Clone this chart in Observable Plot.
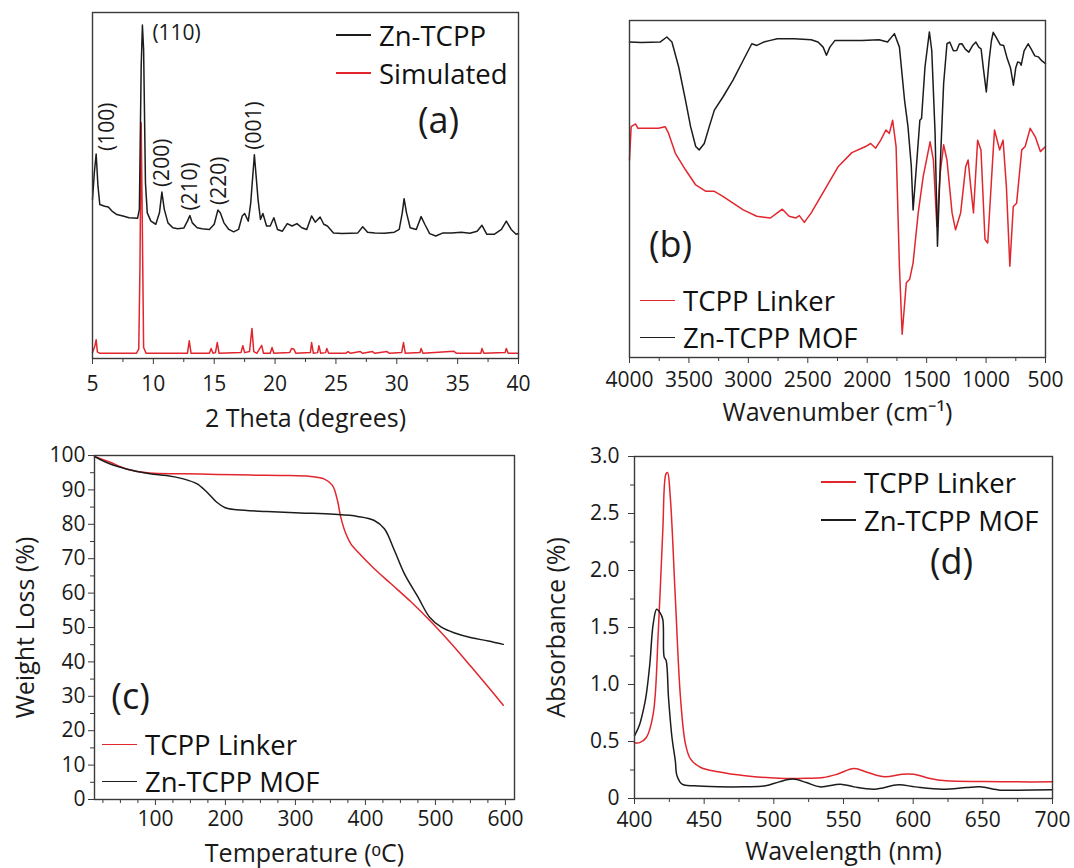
<!DOCTYPE html>
<html><head><meta charset="utf-8">
<script src="https://cdn.jsdelivr.net/npm/d3@7"></script>
<script src="https://cdn.jsdelivr.net/npm/@observablehq/plot@0.6"></script>
<style>
body{margin:0;background:#fff;}
#fig{position:relative;width:1074px;height:868px;overflow:hidden;font-family:'Open Sans',sans-serif;background:#fff;}
.panel{position:absolute;}
.leg{position:absolute;font-size:27.5px;color:#111;white-space:nowrap;z-index:2;}
.leg .item{display:flex;align-items:center;}
.leg .sw{display:inline-block;width:35px;height:1.6px;margin-right:8px;}
</style></head><body><div id="fig"></div>
<script>
// ---------- (a) XRD ----------
const xrdTheta = [5.0,5.15,5.3,5.45,5.6,6.0,6.3,6.6,7.0,7.5,8.0,8.7,8.85,9.0,9.1,9.2,9.35,9.5,9.8,10.2,10.5,10.7,10.9,11.2,11.6,12.0,12.5,12.8,13.0,13.2,13.6,14.0,14.6,15.0,15.3,15.5,15.8,16.2,16.6,17.0,17.3,17.5,17.8,18.0,18.3,18.6,18.8,19.0,19.3,19.6,19.9,20.2,20.6,21.0,21.4,21.8,22.2,22.6,23.0,23.3,23.7,24.0,24.3,24.8,25.5,26.2,26.8,27.2,27.6,28.2,29.0,29.8,30.2,30.45,30.6,30.8,31.1,31.6,32.0,32.3,32.7,33.2,33.8,34.5,35.3,36.0,36.6,37.0,37.4,38.0,38.6,39.0,39.4,39.8,40.0];
const xrdZnTcpp = [46,53.7,59.1,49.8,44.5,44,43.8,42.6,41.6,41.2,40.7,40.5,43.1,84.4,96.4,89.2,50.8,42.1,39.7,38.8,42.1,48.1,43.1,39.2,37.8,37.5,37.7,39.7,41.3,39.2,37.8,37.5,37.3,38.8,42.9,42.1,39.2,37.3,36.6,37.3,41.2,41.9,39.7,45,58.9,46,40.2,41.9,38.3,38.3,40.7,37.3,36.8,39,38.3,39,37.8,37.3,41.2,39.4,40.9,38.8,38.3,36.3,36.1,36.2,36.3,38.1,36.5,36.3,36.2,36.5,37.3,42.1,46.2,42.1,37.8,37.3,41,38.8,36.1,35.4,36.3,36.3,36.5,36.2,36.8,38.5,35.9,35.9,37.3,39.7,37.3,35.9,36.1];
const xrdSimTheta = [5.0,5.2,5.3,5.4,5.6,8.6,8.8,8.9,9.0,9.1,9.2,9.4,12.8,12.95,13.1,14.6,14.75,14.9,15.1,15.25,15.4,17.2,17.35,17.5,17.9,18.1,18.25,18.5,18.9,19.05,19.6,19.75,19.9,21.2,21.35,21.55,21.7,22.9,23.0,23.15,23.5,23.6,23.75,24.15,24.25,24.4,25.8,26.0,26.2,27.0,27.2,28.0,28.2,29.2,29.4,30.4,30.55,30.7,31.9,32.0,32.15,34.7,34.9,36.9,37.0,37.15,38.9,39.0,39.15,40.0];
const xrdSimulated = [1.7,3.7,5.4,1.9,1.5,1.5,2.7,26.7,68.1,36.3,3.2,1.5,1.5,5.1,1.5,1.5,2.9,1.5,1.7,4.6,1.5,1.7,3.7,1.7,2.0,8.7,2.0,1.5,3.8,1.5,1.5,3.2,1.5,1.7,2.9,2.7,1.5,1.7,4.6,1.5,1.7,3.7,1.5,1.7,2.9,1.5,1.5,2.0,1.5,2.0,1.5,2.0,1.5,2.0,1.5,1.7,4.6,1.5,1.7,2.9,1.5,2.1,1.5,1.5,2.9,1.5,1.7,2.9,1.5,1.5];
const xrdPeakHkl = ["(100)","(110)","(200)","(210)","(220)","(001)"];
const xrdPeakTheta = [5.3,9.1,10.7,13.0,15.4,18.3];
const xrdTicks = [5,10,15,20,25,30,35,40];
const xrdSeries = ["Zn-TCPP","Simulated"];

// ---------- (b) FTIR ----------
const ftirWnMof = [4000,3900,3743,3686,3643,3586,3529,3486,3443,3414,3371,3329,3286,3214,3129,3043,2971,2929,2871,2814,2757,2614,2471,2414,2371,2343,2314,2271,2186,2043,1900,1829,1771,1729,1686,1657,1629,1614,1586,1557,1543,1514,1477,1457,1429,1409,1386,1357,1329,1306,1275,1247,1225,1203,1175,1145,1115,1086,1060,1042,1020,998,975,955,940,915,880,852,822,795,770,750,734,715,705,680,646,620,590,559,530,500];
const ftirMof = [93.6,93.5,93.6,95.1,93.6,86.2,76.4,68.5,62.6,61.6,63.5,68.5,73.4,77.3,82.3,88.2,93.1,92.6,93.6,94.1,94.6,94.6,94.3,93.6,92.1,89.7,92.1,94.1,94.1,94.1,94.3,93.6,96.1,92.1,76.4,68.5,56.7,43.8,56.7,70.4,70.9,86.2,96.6,91.1,66.5,33.0,56.7,81.3,93.1,93.6,91.0,91.1,93.0,93.1,91.5,90.6,92.5,93.6,92.0,91.6,85,78.8,88,94,96.5,95.0,92.8,92.6,88.7,86,80.8,86,87.7,87.5,86.7,91,93.1,91.5,89.5,89.2,88,87.2];
const ftirWnLinker = [4000,3986,3949,3929,3900,3757,3700,3671,3614,3529,3443,3357,3286,3214,3129,3043,2929,2814,2757,2714,2657,2600,2571,2529,2471,2357,2243,2129,2014,1971,1929,1886,1843,1814,1786,1757,1729,1706,1671,1643,1614,1571,1529,1471,1443,1414,1386,1357,1329,1286,1257,1214,1171,1151,1129,1106,1071,1043,1009,986,943,929,886,857,829,800,771,743,700,671,629,586,543,500];
const ftirLinker = [58.6,68.5,69.3,68.0,68.0,68.0,68.5,66.5,60.6,55.7,51.2,49.3,49.3,47.8,45.8,43.8,41.9,41.4,42.9,44.0,41.9,41.4,42.1,40.1,42.9,49.8,56.7,60.8,62.6,63.5,62.1,64.5,67.5,66.5,70.4,62.6,27.1,6.9,22.2,23.2,28.1,42.9,53.7,64.0,58.6,38.9,54.7,63.1,58.6,42.9,37.9,42.9,56.7,58.6,50.7,42.9,64.5,61.6,35.0,34.0,59.6,67.5,61.6,64.5,50.7,27.1,44.8,45.8,61.6,62.6,68.0,65.5,61.1,62.6];
const ftirTicks = [4000,3500,3000,2500,2000,1500,1000,500];
const ftirSeries = ["TCPP Linker","Zn-TCPP MOF"];

// ---------- (c) TGA ----------
const tgaTempLinker = [13,34.5,58.5,92,139.9,187.7,235.6,283.5,321.8,340.9,352.9,360.1,364.8,372,379.2,393.6,412.7,436.6,465.4,494.1,522.8,551.5,575.5,597];
const tgaLinker = [99.7,98.1,96.1,94.9,94.7,94.5,94.3,94.2,93.9,93.2,91.3,86.9,82.1,77.3,74.3,71.0,67.1,62.7,57.4,51.6,45.3,38.5,32.7,27.4];
const tgaTempMof = [13,34.5,58.5,92,115.9,139.9,159,173.4,187.7,199.7,216.4,259.5,307.4,355.3,388.8,412.7,427.1,441.5,455.8,475,491.7,508.5,527.6,551.5,575.5,597];
const tgaMof = [99.7,97.6,96.1,94.7,94.2,93.2,91.8,89.4,86.4,84.8,84.2,83.7,83.3,82.9,82.3,81.1,78.7,72.4,65.6,58.9,53.0,50.1,48.4,47.0,46.1,45.1];
const tgaXTicks = [100,200,300,400,500,600];
const tgaYTicks = [0,10,20,30,40,50,60,70,80,90,100];
const tgaSeries = ["TCPP Linker","Zn-TCPP MOF"];

// ---------- (d) UV-Vis ----------
const uvWlLinker = [400,403.7,408.5,413.4,417.1,420.3,422.5,423.7,425.7,429.3,433,436.6,440.3,447.6,459.9,479.4,503.8,523.4,535.6,545.4,557.6,567.4,579.6,591.8,600.3,611.3,623.5,650.4,674.8,700];
const uvLinker = [0.49,0.49,0.535,0.74,1.47,2.35,2.845,2.86,2.64,1.76,0.886,0.477,0.345,0.272,0.234,0.199,0.178,0.178,0.184,0.213,0.263,0.228,0.19,0.213,0.213,0.178,0.155,0.149,0.146,0.146];
const uvWlMof = [400,403.7,407.3,408.5,411,413.4,415.9,418.3,420.3,421.3,422.7,424.4,426.9,429.3,430.5,434.2,442.8,459.9,479.4,494.1,503.8,513.6,523.4,533.1,547.8,557.6,572.3,589.4,601.5,621,638.2,648,662.6,674.8,700];
const uvMof = [0.55,0.65,0.83,0.915,1.18,1.53,1.66,1.63,1.57,1.24,1.21,0.886,0.535,0.33,0.2,0.126,0.111,0.102,0.102,0.111,0.146,0.17,0.14,0.102,0.126,0.102,0.082,0.12,0.102,0.082,0.096,0.102,0.073,0.073,0.076];
const uvXTicks = [400,450,500,550,600,650,700];
const uvYTicks = [0,0.5,1.0,1.5,2.0,2.5,3.0];
const uvSeries = ["TCPP Linker","Zn-TCPP MOF"];

// ---------- styling ----------
const RED = "#e2262d", BLACK = "#1c1c1c", AXIS = "#3a3a3a";
const FONT = "'Open Sans', sans-serif";
const zip = (xs, ys) => xs.map((x, i) => ({x, y: ys[i]}));
const baseStyle = {fontFamily: FONT, fontSize: "21px", color: "#1a1a1a", background: "transparent", overflow: "visible"};
const fig = document.getElementById("fig");

function place(svg, left, top) {
  svg.classList.add("panel");
  svg.style.position = "absolute";
  svg.style.left = left + "px";
  svg.style.top = top + "px";
  fig.appendChild(svg);
}
function legend(names, colors, left, top, rowH) {
  const d = document.createElement("div");
  d.className = "leg";
  d.style.left = left + "px";
  d.style.top = top + "px";
  names.forEach((n, i) => {
    const it = document.createElement("div");
    it.className = "item";
    it.style.height = rowH + "px";
    const sw = document.createElement("span");
    sw.className = "sw";
    sw.style.background = colors[i];
    it.appendChild(sw);
    it.appendChild(document.createTextNode(n));
    d.appendChild(it);
  });
  fig.appendChild(d);
}
const xTitle = (t, dy) => Plot.text([t], {text: d => d, frameAnchor: "bottom", dy, fontSize: 25, textAnchor: "middle", lineAnchor: "middle"});
const yTitle = (t, dx) => Plot.text([t], {text: d => d, frameAnchor: "left", dx, rotate: -90, fontSize: 25, textAnchor: "middle", lineAnchor: "middle"});
const tag = (t, dx, dy) => Plot.text([t], {text: d => d, frameAnchor: "top-left", dx, dy, fontSize: 36, textAnchor: "middle", lineAnchor: "middle"});

// ---------- (a) ----------
const xrdZnPts = zip(xrdTheta, xrdZnTcpp);
const peakPts = xrdPeakHkl.map((h, i) => {
  const t = xrdPeakTheta[i];
  const y = d3.max(xrdZnPts.filter(p => Math.abs(p.x - t) <= 0.25), p => p.y);
  return {hkl: h, x: t, y};
});
const plotA = Plot.plot({
  width: 540, height: 430,
  marginLeft: 92, marginRight: 22, marginTop: 12, marginBottom: 72,
  style: baseStyle,
  x: {domain: [5, 40]},
  y: {domain: [0, 100], axis: null},
  marks: [
    Plot.axisX(d3.range(7.5, 40, 5), {tickSize: 4, fill: "none", stroke: AXIS}),
    Plot.axisX(xrdTicks, {tickSize: 6, tickPadding: 12, tickFormat: d => String(d), label: null, stroke: AXIS}),
    Plot.line(zip(xrdSimTheta, xrdSimulated), {x: "x", y: "y", stroke: RED, strokeWidth: 1.5}),
    Plot.line(xrdZnPts, {x: "x", y: "y", stroke: BLACK, strokeWidth: 1.5}),
    Plot.text(peakPts.filter(p => p.hkl === "(100)"), {x: "x", y: "y", text: "hkl", rotate: -90, textAnchor: "start", dx: 11, dy: -3, fontSize: 21}),
    Plot.text(peakPts.filter(p => p.hkl !== "(100)" && p.hkl !== "(110)"), {x: "x", y: "y", text: "hkl", rotate: -90, textAnchor: "start", dy: -5, fontSize: 21}),
    Plot.text(peakPts.filter(p => p.hkl === "(110)"), {x: "x", y: "y", text: "hkl", textAnchor: "start", dx: 10, dy: 8, fontSize: 21}),
    xTitle("2 Theta (degrees)", 60),
    tag("(a)", 346, 109),
    Plot.frame({stroke: AXIS, strokeWidth: 1.4})
  ]
});
place(plotA, 0, 0);
legend(xrdSeries, [BLACK, RED], 336, 16, 38);

// ---------- (b) ----------
const plotB = Plot.plot({
  width: 534, height: 430,
  marginLeft: 89, marginRight: 29, marginTop: 20, marginBottom: 73,
  style: baseStyle,
  x: {domain: [4000, 500]},
  y: {domain: [0, 100], axis: null},
  marks: [
    Plot.axisX(d3.range(3750, 500, -500), {tickSize: 4, fill: "none", stroke: AXIS}),
    Plot.axisX(ftirTicks, {tickSize: 6, tickPadding: 9, tickFormat: d => String(d), label: null, stroke: AXIS}),
    Plot.line(zip(ftirWnLinker, ftirLinker), {x: "x", y: "y", stroke: RED, strokeWidth: 1.5}),
    Plot.line(zip(ftirWnMof, ftirMof), {x: "x", y: "y", stroke: BLACK, strokeWidth: 1.5}),
    xTitle("Wavenumber (cm\u207B\u00B9)", 55),
    tag("(b)", 41, 225),
    Plot.frame({stroke: AXIS, strokeWidth: 1.4})
  ]
});
place(plotB, 540, 0);
legend(ftirSeries, [RED, BLACK], 640, 282, 37);

// ---------- (c) ----------
const plotC = Plot.plot({
  width: 540, height: 438,
  marginLeft: 94, marginRight: 26, marginTop: 25, marginBottom: 69,
  style: baseStyle,
  x: {domain: [13, 613]},
  y: {domain: [0, 100]},
  marks: [
    Plot.axisX(d3.range(25, 613, 25).filter(v => v % 100 !== 0), {tickSize: 4, fill: "none", stroke: AXIS}),
    Plot.axisX(tgaXTicks, {tickSize: 6, tickPadding: 6, tickFormat: d => String(d), label: null, stroke: AXIS}),
    Plot.axisY(d3.range(5, 100, 10), {tickSize: 4, fill: "none", stroke: AXIS}),
    Plot.axisY(tgaYTicks, {tickSize: 6, tickPadding: 3, tickFormat: d => String(d), label: null, stroke: AXIS}),
    Plot.line(zip(tgaTempLinker, tgaLinker), {x: "x", y: "y", stroke: RED, strokeWidth: 1.5, curve: "catmull-rom"}),
    Plot.line(zip(tgaTempMof, tgaMof), {x: "x", y: "y", stroke: BLACK, strokeWidth: 1.5, curve: "catmull-rom"}),
    xTitle("Temperature (\u1D52C)", 54),
    yTitle("Weight Loss (%)", -69),
    tag("(c)", 36, 242),
    Plot.frame({stroke: AXIS, strokeWidth: 1.4})
  ]
});
place(plotC, 0, 430);
legend(tgaSeries, [RED, BLACK], 102, 726, 37);

// ---------- (d) ----------
const plotD = Plot.plot({
  width: 534, height: 438,
  marginLeft: 94, marginRight: 22, marginTop: 26, marginBottom: 70,
  style: baseStyle,
  x: {domain: [400, 700]},
  y: {domain: [0, 3]},
  marks: [
    Plot.axisX(d3.range(425, 700, 50), {tickSize: 4, fill: "none", stroke: AXIS}),
    Plot.axisX(uvXTicks, {tickSize: 6, tickPadding: 8, tickFormat: d => String(d), label: null, stroke: AXIS}),
    Plot.axisY(d3.range(0.25, 3, 0.5), {tickSize: 4, fill: "none", stroke: AXIS}),
    Plot.axisY(uvYTicks, {tickSize: 6, tickPadding: 9, tickFormat: d => d === 0 ? "0" : d.toFixed(1), label: null, stroke: AXIS}),
    Plot.line(zip(uvWlLinker, uvLinker), {x: "x", y: "y", stroke: RED, strokeWidth: 1.5, curve: "catmull-rom"}),
    Plot.line(zip(uvWlMof, uvMof), {x: "x", y: "y", stroke: BLACK, strokeWidth: 1.5, curve: "catmull-rom"}),
    xTitle("Wavelength (nm)", 53),
    yTitle("Absorbance (%)", -78),
    tag("(d)", 317, 106),
    Plot.frame({stroke: AXIS, strokeWidth: 1.4})
  ]
});
place(plotD, 540, 430);
legend(uvSeries, [RED, BLACK], 821, 463, 38);
</script></body></html>
